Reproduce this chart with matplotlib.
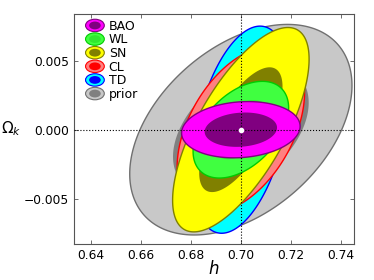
import numpy as np
import matplotlib
matplotlib.use('Agg')
import matplotlib.pyplot as plt
from matplotlib.patches import Ellipse
from matplotlib.legend_handler import HandlerBase

# Fiducial values
h0 = 0.70
ok0 = 0.0

# Probes (drawn bottom to top), 1-sigma errors and correlation
probes = ['prior', 'TD', 'CL', 'SN', 'WL', 'BAO']
sigma_h = [0.01791, 0.00785, 0.01027, 0.0110, 0.0077, 0.00955]
sigma_ok = [0.00307, 0.00302, 0.00242, 0.00298, 0.00141, 0.00082]
rho = [0.42, 0.395, 0.45, 0.69, 0.45, 0.12]

# colours: light (2 sigma), dark (1 sigma), edge
light = ['#c8c8c8', '#00ffff', '#ff8080', '#ffff00', '#40ff40', '#ff00ff']
dark = ['#808080', '#0000ff', '#ff0000', '#808000', '#30e830', '#800080']
edge = ['#707070', '#0000ff', '#ff0000', '#808000', '#00cc00', '#800080']

# delta chi2 levels for 2 parameters
levels = [np.sqrt(6.17), np.sqrt(2.30)]

xticks = [0.64, 0.66, 0.68, 0.70, 0.72, 0.74]
yticks = [-0.005, 0.0, 0.005]


def ellipse_xy(sh, so, r, k):
    t = np.linspace(0, 2 * np.pi, 300)
    cov = np.array([[sh**2, r * sh * so], [r * sh * so, so**2]])
    L = np.linalg.cholesky(cov)
    pts = k * L @ np.vstack([np.cos(t), np.sin(t)])
    return h0 + pts[0], ok0 + pts[1]


class HandlerTwoEllipse(HandlerBase):
    def create_artists(self, legend, orig_handle, xdescent, ydescent,
                       width, height, fontsize, trans):
        lc, dc, ec = orig_handle
        cx = 0.5 * width - xdescent
        cy = 0.5 * height - ydescent
        outer = Ellipse((cx, cy), width, height * 1.2, facecolor=lc,
                        edgecolor=ec, lw=0.8, transform=trans)
        inner = Ellipse((cx, cy), width * 0.62, height * 0.75, facecolor=dc,
                        edgecolor='none', transform=trans)
        return [outer, inner]


fig = plt.figure(figsize=(3.74, 2.8), dpi=100)
ax = fig.add_axes([74 / 374, 1 - 244 / 280, 280 / 374, 230 / 280])

for i in range(len(probes)):
    for j, k in enumerate(levels):
        x, y = ellipse_xy(sigma_h[i], sigma_ok[i], rho[i], k)
        if j == 0:
            ax.fill(x, y, facecolor=light[i], edgecolor=edge[i], lw=1.0, zorder=2 + 2 * i)
        else:
            ax.fill(x, y, facecolor=dark[i], edgecolor='none', zorder=3 + 2 * i)

ax.axvline(h0, color='k', ls=':', lw=0.8, zorder=20)
ax.axhline(ok0, color='k', ls=':', lw=0.8, zorder=20)
ax.plot([h0], [ok0], 'o', color='white', ms=3, zorder=21)

ax.set_xlim(0.6332, 0.7453)
ax.set_ylim(-0.00828, 0.00838)
ax.set_xticks(xticks)
ax.set_yticks(yticks)
ax.set_xticklabels(['%.2f' % v for v in xticks])
ax.set_yticklabels(['\u2212%.3f' % abs(v) if v < 0 else '%.3f' % v for v in yticks])
ax.tick_params(labelsize=8.8, direction='in', length=3, width=0.6, top=True, right=True,
               colors='#555555', labelcolor='black')
for s in ax.spines.values():
    s.set_linewidth(0.8)
    s.set_color('#555555')

ax.set_xlabel(r'$h$', fontsize=12, labelpad=-1)
ax.set_ylabel(r'$\Omega_k$', fontsize=11, rotation=0, ha='center', va='center')
ax.yaxis.set_label_coords(-0.225, 0.5)

handles = [(light[i], dark[i], edge[i]) for i in range(len(probes))][::-1]
labels = probes[::-1]
ax.legend(handles, labels, handler_map={tuple: HandlerTwoEllipse()},
          loc='upper left', frameon=False, fontsize=9, labelspacing=0.05,
          handlelength=1.5, handleheight=0.9, handletextpad=0.35,
          borderaxespad=0.3, bbox_to_anchor=(0.01, 1.013))

fig.savefig('out.png', dpi=100)
